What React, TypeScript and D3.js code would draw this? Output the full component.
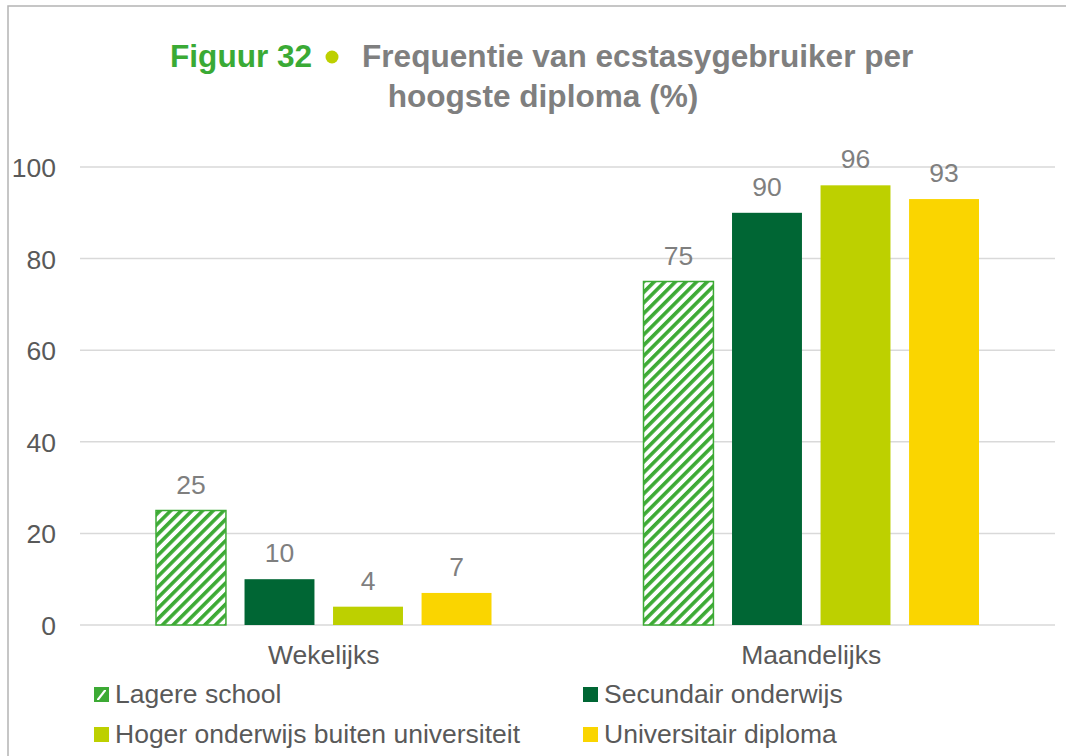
import { useEffect, useRef } from "react";
import * as d3 from "d3";

const categories = ["Wekelijks", "Maandelijks"];
const seriesNames = [
  "Lagere school",
  "Secundair onderwijs",
  "Hoger onderwijs buiten universiteit",
  "Universitair diploma",
];
const lagereSchool = [25, 75];
const secundair = [10, 90];
const hogerOnderwijs = [4, 96];
const universitair = [7, 93];
const yTicks = [0, 20, 40, 60, 80, 100];

const colors = ["url(#hatch)", "#006634", "#BDD000", "#FAD500"];
const hatchGreen = "#3DAA35";

export default function App() {
  const svgRef = useRef<SVGSVGElement>(null);

  useEffect(() => {
    const svg = d3.select(svgRef.current);
    svg.selectAll("*").remove();

    const width = 1066;
    const height = 756;
    const margin = { top: 167, right: 11, bottom: 131, left: 80 };
    const series = [lagereSchool, secundair, hogerOnderwijs, universitair];
    const font = "'Liberation Sans', Arial, sans-serif";
    const fs = 26.5;

    // hatch pattern for the first series
    const defs = svg.append("defs");
    const pat = defs
      .append("pattern")
      .attr("id", "hatch")
      .attr("patternUnits", "userSpaceOnUse")
      .attr("width", 7.5)
      .attr("height", 7.5)
      .attr("patternTransform", "rotate(45)");
    pat.append("rect").attr("width", 7.5).attr("height", 7.5).attr("fill", "#fff");
    pat.append("rect").attr("width", 3.6).attr("height", 7.5).attr("fill", hatchGreen);

    svg.append("rect").attr("width", width).attr("height", height).attr("fill", "#fff");

    // outer border (right/bottom fall off the picture)
    svg
      .append("rect")
      .attr("x", 8)
      .attr("y", 6)
      .attr("width", width + 20)
      .attr("height", height + 20)
      .attr("fill", "none")
      .attr("stroke", "#B4B4B4")
      .attr("stroke-width", 1.5);

    const x0 = d3
      .scaleBand()
      .domain(categories)
      .range([margin.left, width - margin.right]);

    const x1 = d3
      .scaleBand()
      .domain(seriesNames)
      .range([76, x0.bandwidth() - 76])
      .paddingInner(0.21);

    const y = d3
      .scaleLinear()
      .domain([0, 100])
      .range([height - margin.bottom, margin.top]);

    // gridlines
    svg
      .append("g")
      .selectAll("line")
      .data(yTicks)
      .enter()
      .append("line")
      .attr("x1", margin.left)
      .attr("x2", width - margin.right)
      .attr("y1", (d) => y(d))
      .attr("y2", (d) => y(d))
      .attr("stroke", "#D9D9D9")
      .attr("stroke-width", 1.5);

    // y tick labels
    svg
      .append("g")
      .selectAll("text")
      .data(yTicks)
      .enter()
      .append("text")
      .attr("x", 56)
      .attr("y", (d) => y(d) + 10)
      .attr("text-anchor", "end")
      .attr("font-family", font)
      .attr("font-size", fs)
      .attr("fill", "#595959")
      .text((d) => d);

    // bars
    const cells = categories.flatMap((c, ci) =>
      seriesNames.map((s, si) => ({ c, s, si, v: series[si][ci] }))
    );

    const g = svg.append("g");
    g.selectAll("rect")
      .data(cells)
      .enter()
      .append("rect")
      .attr("x", (d) => x0(d.c)! + x1(d.s)!)
      .attr("y", (d) => y(d.v))
      .attr("width", x1.bandwidth())
      .attr("height", (d) => y(0) - y(d.v))
      .attr("fill", (d) => colors[d.si])
      .attr("stroke", (d) => (d.si === 0 ? hatchGreen : "none"))
      .attr("stroke-width", 1.5);

    g.selectAll("text")
      .data(cells)
      .enter()
      .append("text")
      .attr("x", (d) => x0(d.c)! + x1(d.s)! + x1.bandwidth() / 2)
      .attr("y", (d) => y(d.v) - 17)
      .attr("text-anchor", "middle")
      .attr("font-family", font)
      .attr("font-size", fs)
      .attr("fill", "#7F7F7F")
      .text((d) => d.v);

    // category labels
    svg
      .append("g")
      .selectAll("text")
      .data(categories)
      .enter()
      .append("text")
      .attr("x", (d) => x0(d)! + x0.bandwidth() / 2)
      .attr("y", 664)
      .attr("text-anchor", "middle")
      .attr("font-family", font)
      .attr("font-size", fs)
      .attr("fill", "#595959")
      .text((d) => d);

    // title
    const tg = svg
      .append("g")
      .attr("font-family", font)
      .attr("font-size", 31.6)
      .attr("font-weight", "bold");
    tg.append("text").attr("x", 170).attr("y", 67).attr("fill", "#3AAA35").text("Figuur 32");
    tg.append("circle").attr("cx", 332).attr("cy", 57).attr("r", 6.5).attr("fill", "#BDD000");
    tg.append("text")
      .attr("x", 362)
      .attr("y", 67)
      .attr("fill", "#7F7F7F")
      .text("Frequentie van ecstasygebruiker per");
    tg.append("text")
      .attr("x", 543)
      .attr("y", 107)
      .attr("text-anchor", "middle")
      .attr("fill", "#7F7F7F")
      .text("hoogste diploma (%)");

    // legend
    const legendPos = [
      [94, 687],
      [583, 687],
      [94, 727],
      [583, 727],
    ];
    const legend = svg
      .append("g")
      .selectAll("g")
      .data(seriesNames)
      .enter()
      .append("g")
      .attr("transform", (_d, i) => `translate(${legendPos[i][0]},${legendPos[i][1]})`);

    legend
      .append("rect")
      .attr("x", (_d, i) => (i === 0 ? 0.75 : 0))
      .attr("y", (_d, i) => (i === 0 ? 0.75 : 0))
      .attr("width", (_d, i) => (i === 0 ? 13.5 : 15))
      .attr("height", (_d, i) => (i === 0 ? 13.5 : 15))
      .attr("fill", (_d, i) => (i === 0 ? hatchGreen : colors[i]))
      .attr("stroke", (_d, i) => (i === 0 ? hatchGreen : "none"))
      .attr("stroke-width", 1.5);

    // white diagonal band inside the hatched legend swatch
    legend
      .filter((_d, i) => i === 0)
      .append("path")
      .attr("d", "M3,12 L10,3 L12,3 L12,4 L5,13 L3,13 Z")
      .attr("fill", "#fff");

    legend
      .append("text")
      .attr("x", 21)
      .attr("y", 16)
      .attr("font-family", font)
      .attr("font-size", fs)
      .attr("fill", "#595959")
      .text((d) => d);
  }, []);

  return (
    <div style={{ position: "absolute", left: 0, top: 0 }}>
      <svg ref={svgRef} width={1066} height={756} style={{ display: "block" }} />
    </div>
  );
}
